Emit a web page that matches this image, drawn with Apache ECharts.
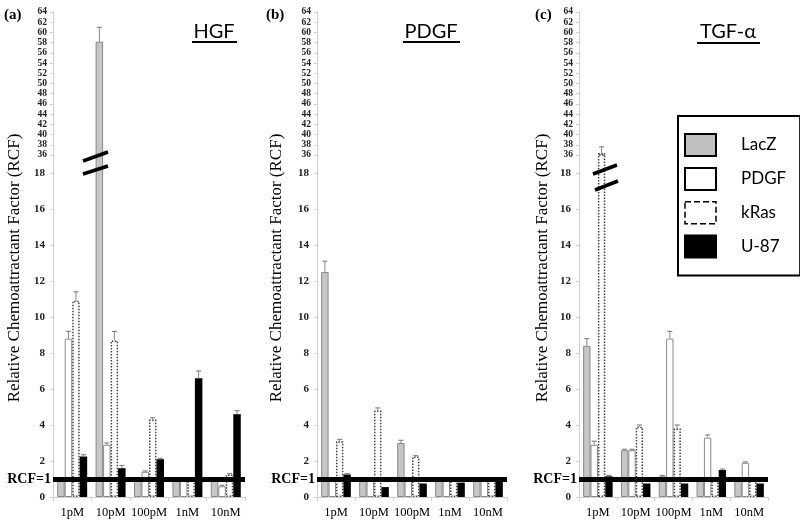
<!DOCTYPE html>
<html>
<head>
<meta charset="utf-8">
<script src="https://cdn.jsdelivr.net/npm/echarts@6/dist/echarts.min.js"></script>
<style>html,body{margin:0;padding:0;background:#fff}#c{width:800px;height:523px}</style>
</head>
<body>
<div id="c"></div>
<script>
const categories = ['1pM', '10pM', '100pM', '1nM', '10nM'];
const seriesNames = ['LacZ', 'PDGF', 'kRas', 'U-87'];
const upperTicks = [36, 38, 40, 42, 44, 46, 48, 50, 52, 54, 56, 58, 60, 62, 64];
const lowerTicks = [0, 2, 4, 6, 8, 10, 12, 14, 16, 18];
const panelTitles = ['HGF', 'PDGF', 'TGF-α'];
const panelLetters = ['(a)', '(b)', '(c)'];

// (a) HGF
const hgfLacZ = [1.0, 58.2, 1.0, 1.0, 1.0];
const hgfPDGF = [8.8, 2.9, 1.4, 1.0, 0.6];
const hgfKRas = [10.9, 8.7, 4.3, 1.0, 1.25];
const hgfU87 = [2.25, 1.6, 2.1, 6.6, 4.6];
const hgfLacZErr = [0, 2.8, 0, 0, 0];
const hgfPDGFErr = [0.4, 0.1, 0.05, 0, 0.05];
const hgfKRasErr = [0.5, 0.5, 0.1, 0, 0.05];
const hgfU87Err = [0.1, 0.15, 0.05, 0.4, 0.2];

// (b) PDGF
const pdgfLacZ = [12.5, 1.0, 3.0, 1.0, 1.0];
const pdgfPDGF = [0.95, 0.95, 0.95, 0.95, 0.95];
const pdgfKRas = [3.1, 4.8, 2.25, 1.0, 1.05];
const pdgfU87 = [1.25, 0.55, 0.75, 0.8, 1.05];
const pdgfLacZErr = [0.6, 0, 0.15, 0, 0];
const pdgfPDGFErr = [0, 0, 0, 0, 0];
const pdgfKRasErr = [0.1, 0.15, 0.05, 0, 0];
const pdgfU87Err = [0.05, 0, 0, 0, 0];

// (c) TGF-alpha
const tgfLacZ = [8.4, 2.6, 1.15, 1.0, 1.0];
const tgfPDGF = [2.9, 2.6, 8.8, 3.3, 1.9];
const tgfKRas = [36.4, 3.9, 3.8, 1.0, 1.0];
const tgfU87 = [1.15, 0.75, 0.75, 1.5, 0.75];
const tgfLacZErr = [0.4, 0.05, 0.05, 0, 0];
const tgfPDGFErr = [0.2, 0.05, 0.4, 0.15, 0.05];
const tgfKRasErr = [1.2, 0.1, 0.2, 0, 0];
const tgfU87Err = [0.05, 0, 0, 0.05, 0];

const panels = [
  {left: 53, width: 192, vals: [hgfLacZ, hgfPDGF, hgfKRas, hgfU87], errs: [hgfLacZErr, hgfPDGFErr, hgfKRasErr, hgfU87Err]},
  {left: 317, width: 190, vals: [pdgfLacZ, pdgfPDGF, pdgfKRas, pdgfU87], errs: [pdgfLacZErr, pdgfPDGFErr, pdgfKRasErr, pdgfU87Err]},
  {left: 579, width: 189, vals: [tgfLacZ, tgfPDGF, tgfKRas, tgfU87], errs: [tgfLacZErr, tgfPDGFErr, tgfKRasErr, tgfU87Err]}
];

const SERIF = '"Liberation Serif", "Times New Roman", serif';
const SANS = 'Lato, "Open Sans", sans-serif';

const barStyles = [
  {color: '#c6c6c6', borderColor: '#8a8a8a', borderWidth: 1},
  {color: '#ffffff', borderColor: '#8a8a8a', borderWidth: 1},
  {color: '#ffffff', borderColor: '#444', borderWidth: 1.5, borderType: 'dotted'},
  {color: '#000000', borderColor: '#000', borderWidth: 0}
];

function errRender(params, api) {
  const ci = api.value(0), v = api.value(1), e = api.value(2), k = api.value(3);
  if (!e) return null;
  const bandW = api.size([1, 0])[0];
  const bw = bandW * 0.78 / 4;
  const c = api.coord([ci, v]);
  const x = c[0] + (k - 1.5) * bw;
  const top = api.coord([ci, v + e])[1];
  return {
    type: 'group',
    children: [
      {type: 'line', shape: {x1: x, y1: c[1], x2: x, y2: top}, style: {stroke: '#888', lineWidth: 1}},
      {type: 'line', shape: {x1: x - 2.5, y1: top, x2: x + 2.5, y2: top}, style: {stroke: '#888', lineWidth: 1.2}}
    ]
  };
}

const grid = [], xAxis = [], yAxis = [], series = [];
panels.forEach((p, pi) => {
  const gU = grid.length;
  grid.push({left: p.left, width: p.width, top: 12, height: 143});
  grid.push({left: p.left, width: p.width, top: 155, height: 342});
  const gL = gU + 1;
  xAxis.push({type: 'category', gridIndex: gU, data: categories, show: false});
  xAxis.push({type: 'category', gridIndex: gL, data: categories,
    axisLine: {lineStyle: {color: '#cfcfcf', width: 1}},
    axisTick: {show: true, length: 4, lineStyle: {color: '#cfcfcf'}},
    axisLabel: {fontFamily: SERIF, fontSize: 12.5, color: '#000', margin: 9, interval: 0, hideOverlap: false}});
  yAxis.push({type: 'value', gridIndex: gU, min: 36, max: 64, interval: 2,
    splitLine: {show: false},
    axisLine: {show: true, lineStyle: {color: '#cfcfcf'}},
    axisTick: {show: true, length: 3, lineStyle: {color: '#cfcfcf'}, customValues: upperTicks},
    axisLabel: {fontFamily: SERIF, fontWeight: 'bold', fontSize: 9.5, color: '#222', margin: 6, customValues: upperTicks}});
  yAxis.push({type: 'value', gridIndex: gL, min: 0, max: 19, interval: 2,
    splitLine: {show: false},
    axisLine: {show: true, lineStyle: {color: '#cfcfcf'}},
    axisTick: {show: true, length: 3, lineStyle: {color: '#cfcfcf'}, customValues: lowerTicks},
    axisLabel: {fontFamily: SERIF, fontWeight: 'bold', fontSize: 11, color: '#222', margin: 8, customValues: lowerTicks}});
  [gU, gL].forEach((g, gi) => {
    seriesNames.forEach((name, k) => {
      const s = {
        type: 'bar', name: name, xAxisIndex: g, yAxisIndex: g,
        data: p.vals[k], barGap: '0%', barCategoryGap: '22%',
        itemStyle: barStyles[k], clip: true, animation: false, z: 2
      };
      if (gi === 1 && k === 3) {
        s.z = 3;
        s.markLine = {
          silent: true, symbol: ['none', 'none'], animation: false,
          data: [{yAxis: 1}],
          lineStyle: {color: '#000', width: 5, type: 'solid'},
          label: {show: true, position: 'start', formatter: 'RCF=1', fontFamily: SERIF,
            fontWeight: 'bold', fontSize: 14, color: '#000', distance: 2}
        };
      }
      series.push(s);
    });
    const edata = [];
    for (let k = 0; k < 4; k++) for (let i = 0; i < categories.length; i++) {
      edata.push([i, p.vals[k][i], p.errs[k][i], k]);
    }
    series.push({type: 'custom', name: 'err' + pi + gi, xAxisIndex: g, yAxisIndex: g,
      renderItem: errRender, data: edata, clip: true, z: 4, animation: false, silent: true});
  });
});

const graphic = [];
const titleX = [214, 431, 728];
const titleUnder = [[192, 237, 42], [403, 460, 42], [697, 760, 43]];
const ytitleX = [15, 277, 543];
const letterX = [4, 266, 535];
for (let i = 0; i < 3; i++) {
  graphic.push({type: 'text', x: titleX[i], y: 32, style: {text: panelTitles[i], font: '20px ' + SANS, fill: '#000', textAlign: 'center', textVerticalAlign: 'middle'}});
  graphic.push({type: 'line', shape: {x1: titleUnder[i][0], y1: titleUnder[i][2], x2: titleUnder[i][1], y2: titleUnder[i][2]}, style: {stroke: '#000', lineWidth: 1.8}});
  graphic.push({type: 'text', x: ytitleX[i], y: 268, rotation: Math.PI / 2, style: {text: 'Relative Chemoattractant Factor (RCF)', font: '17px ' + SERIF, fill: '#000', textAlign: 'center', textVerticalAlign: 'middle'}});
  graphic.push({type: 'text', x: letterX[i], y: 15, style: {text: panelLetters[i], font: 'bold 15px ' + SERIF, fill: '#000', textAlign: 'left', textVerticalAlign: 'middle'}});
}
// axis break marks
[[83, 161, 108, 152], [83, 174, 108, 166], [593, 174, 617, 165], [595, 190, 618, 181]].forEach(l => {
  graphic.push({type: 'line', z: 100, shape: {x1: l[0], y1: l[1], x2: l[2], y2: l[3]}, style: {stroke: '#000', lineWidth: 3.5}});
});

const chart = echarts.init(document.getElementById('c'), null, {renderer: 'canvas'});
chart.setOption({
  animation: false,
  backgroundColor: '#fff',
  grid, xAxis, yAxis, series, graphic,
  legend: {
    orient: 'vertical', left: 678, top: 116, padding: [17, 14, 17, 6],
    itemWidth: 31, itemHeight: 22, itemGap: 10, selectedMode: false,
    borderColor: '#000', borderWidth: 2, backgroundColor: '#fff',
    textStyle: {fontFamily: SANS, fontSize: 17, color: '#000', padding: [0, 0, 0, 20]},
    data: [
      {name: 'LacZ', icon: 'rect', itemStyle: {color: '#c0c0c0', borderColor: '#000', borderWidth: 2}},
      {name: 'PDGF', icon: 'rect', itemStyle: {color: '#fff', borderColor: '#000', borderWidth: 2}},
      {name: 'kRas', icon: 'rect', itemStyle: {color: '#fff', borderColor: '#000', borderWidth: 1.5, borderType: 'dashed'}},
      {name: 'U-87', icon: 'rect', itemStyle: {color: '#000', borderColor: '#000', borderWidth: 2}}
    ]
  }
});
</script>
</body>
</html>
